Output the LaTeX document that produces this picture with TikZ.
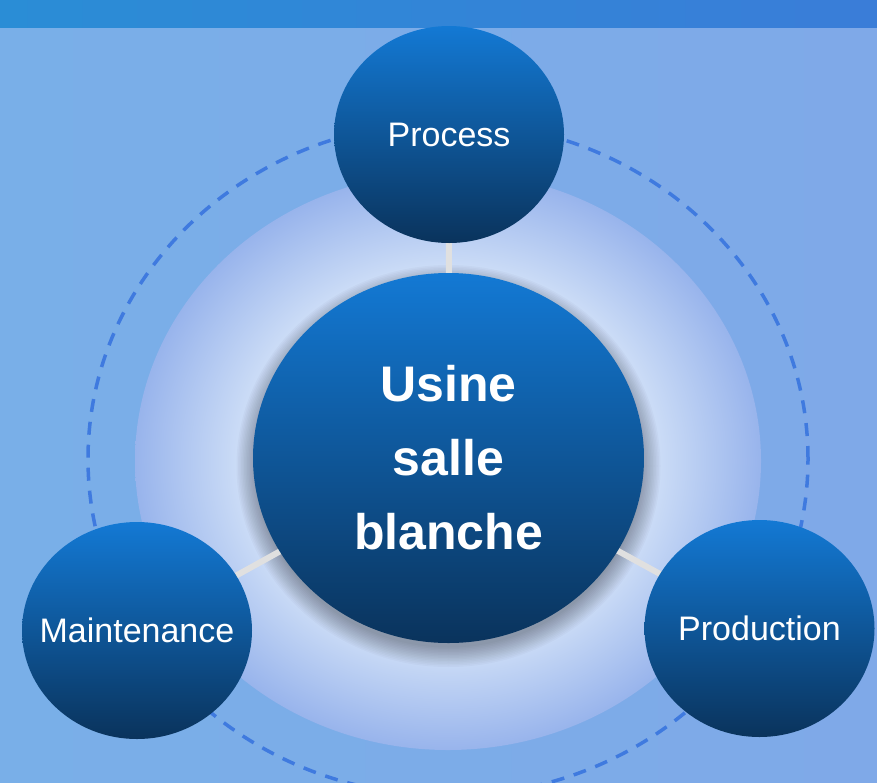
\documentclass[tikz,border=0pt]{standalone}
\usepackage{fontspec}
\setmainfont{Liberation Sans}
\usetikzlibrary{shapes.geometric}
\definecolor{bgL}{HTML}{79AFE8}
\definecolor{bgR}{HTML}{7FA9E8}
\definecolor{bandL}{HTML}{2A8DD6}
\definecolor{bandR}{HTML}{3A7DD8}
\definecolor{dashc}{HTML}{3F7ADF}
\definecolor{glowin}{HTML}{CADBF6}
\definecolor{glowout}{HTML}{98B4EC}
\definecolor{connc}{HTML}{E0E0E0}
\definecolor{ctop}{HTML}{1379D4}
\definecolor{cbot}{HTML}{0A335C}
\pgfdeclareradialshading{glowshade}{\pgfpoint{0bp}{0bp}}{%
  color(0bp)=(glowin); color(17bp)=(glowin); color(25bp)=(glowout); color(50bp)=(glowout)}
\pgfdeclarelayer{bg}
\pgfsetlayers{bg,main}
\tikzset{
  bubble/.style={ellipse, inner sep=0pt, top color=ctop, bottom color=cbot,
    text=white, font=\fontsize{34}{40}\selectfont},
  satbubble/.style={bubble, inner sep=-60pt, minimum width=230pt, minimum height=217pt},
  hubbubble/.style={bubble, minimum width=391pt, minimum height=370pt,
    font=\fontsize{50}{74}\selectfont\bfseries, align=center},
  conn/.style={draw=connc, line width=6pt},
  orbit/.style={draw=dashc, line width=3.5pt, dash pattern=on 13pt off 10pt}
}
\begin{document}
\begin{tikzpicture}[x=1pt,y=-1pt]
\useasboundingbox (0,0) rectangle (877,782);
% nodes
\node[hubbubble] (hub) at (448.5,458) {Usine\\salle\\blanche};
\node[satbubble] (proc) at (449,134.5) {Process};
\node[satbubble] (maint) at (137,630.5) {Maintenance};
\node[satbubble] (prod) at (759.5,628.5) {Production};
\begin{pgfonlayer}{bg}
  \shade[left color=bgL, right color=bgR] (0,0) rectangle (877,782);
  \shade[left color=bandL, right color=bandR] (0,0) rectangle (877,27);
  \draw[orbit] (448,459) ellipse [x radius=360pt, y radius=337pt];
  \shade[shading=glowshade] (448,461) ellipse [x radius=313pt, y radius=289pt];
  \foreach \i in {0,...,13}
    \fill[black, opacity=0.022] (448.5,466) ellipse [x radius={212pt-\i*1.5pt}, y radius={201pt-\i*1.5pt}];
  \draw[conn] (hub.center) -- (proc.center);
  \draw[conn] (hub.center) -- (maint.center);
  \draw[conn] (hub.center) -- (prod.center);
\end{pgfonlayer}
\end{tikzpicture}
\end{document}
